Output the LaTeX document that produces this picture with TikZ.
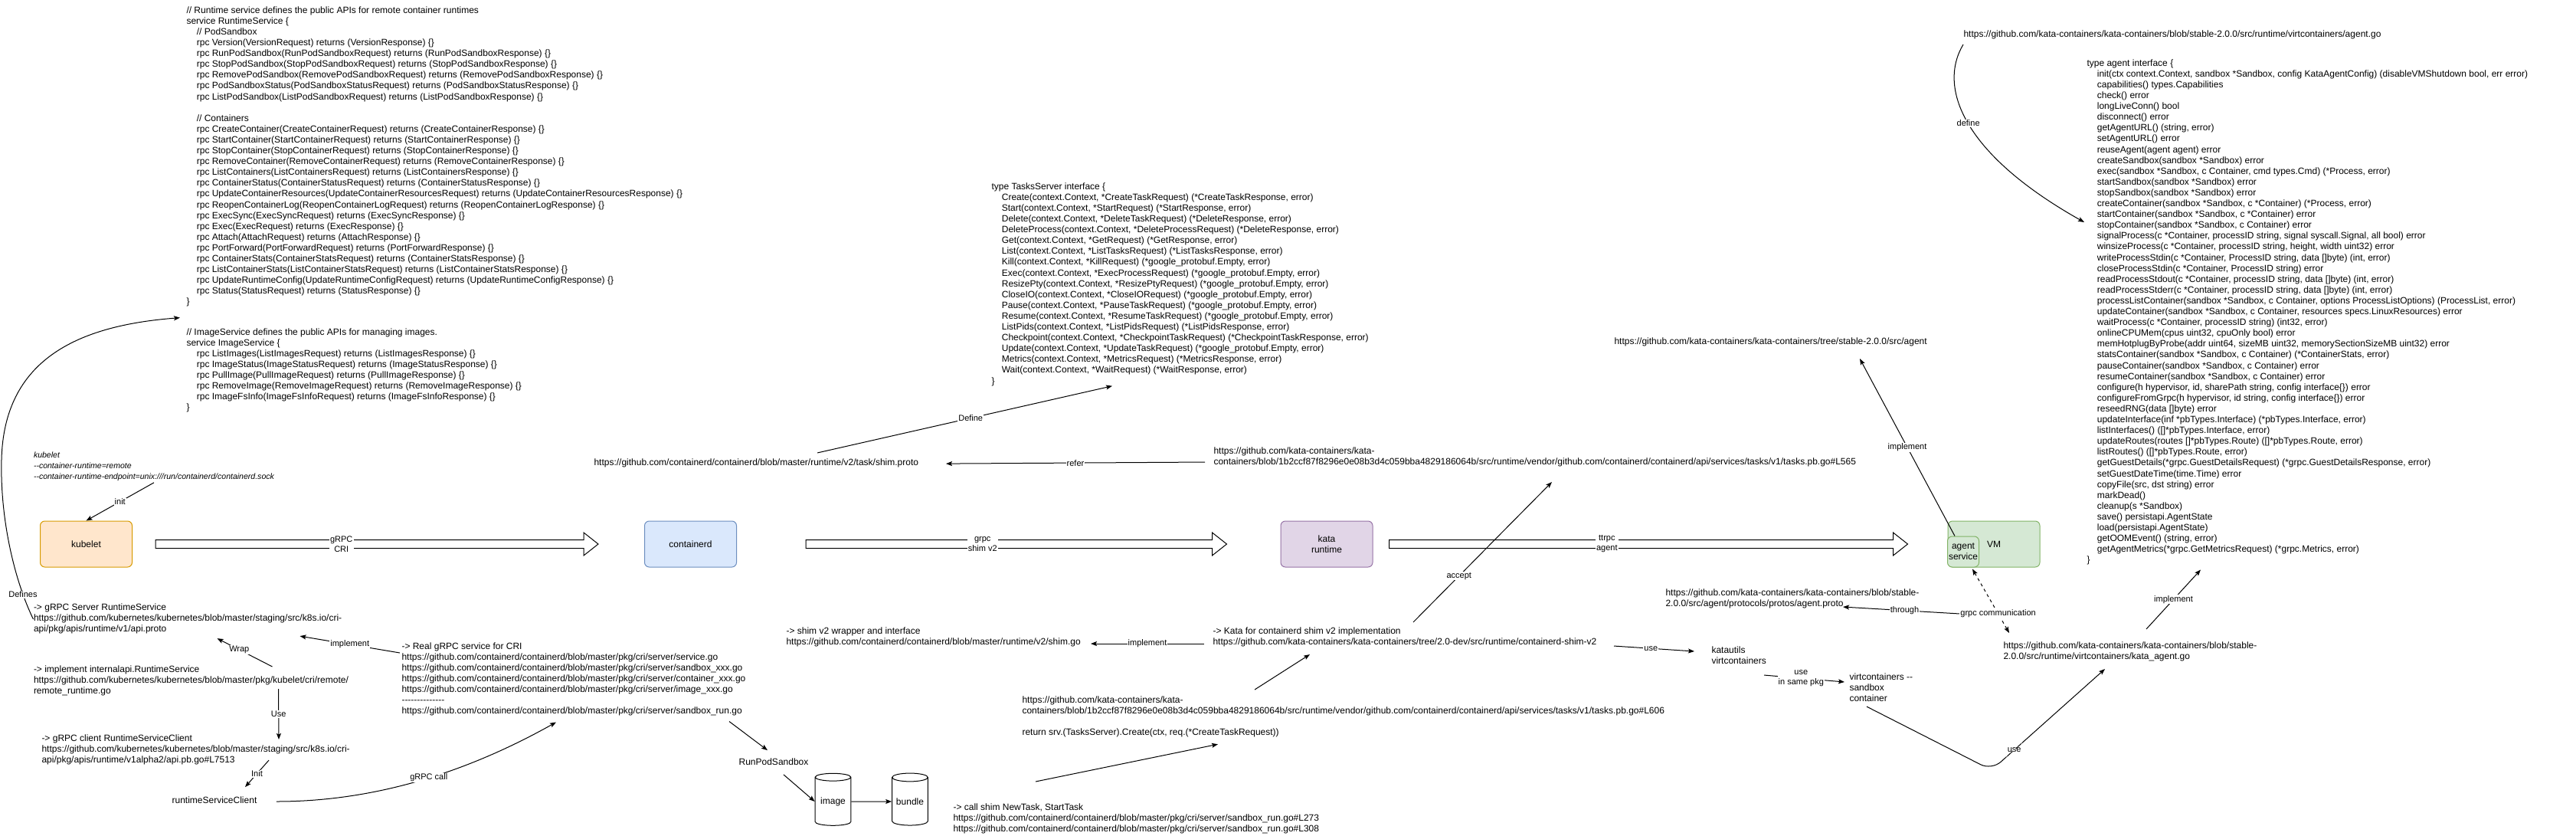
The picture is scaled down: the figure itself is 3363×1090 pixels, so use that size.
\documentclass[tikz,border=0pt]{standalone}
\usepackage{fontspec}
\setmainfont{Liberation Sans}[Ligatures=TeXOff]
\usepackage{tikz}
\usetikzlibrary{arrows.meta}
\usetikzlibrary{calc}
\usetikzlibrary{positioning}
\usetikzlibrary{shapes.geometric}

\definecolor{kubeletfill}{HTML}{FFE6CC}
\definecolor{kubeletline}{HTML}{D79B00}
\definecolor{ctrdfill}{HTML}{DAE8FC}
\definecolor{ctrdline}{HTML}{6C8EBF}
\definecolor{katafill}{HTML}{E1D5E7}
\definecolor{kataline}{HTML}{9673A6}
\definecolor{vmfill}{HTML}{D5E8D4}
\definecolor{vmline}{HTML}{82B366}

\newcommand{\ind}{\hspace*{10pt}}

\begin{document}
\begin{tikzpicture}[x=0.75pt, y=-0.75pt, line width=0.75pt,
    >={Stealth[length=6pt,width=4.5pt,inset=1.2pt]},
    txt/.style={inner sep=0pt, align=left, anchor=north west, execute at begin node=\strut,
      font=\fontsize{9}{10.575}\selectfont},
    plain/.style={inner sep=0pt, font=\fontsize{9}{10.575}\selectfont},
    lbl/.style={fill=white, inner sep=0.8pt, align=center, font=\fontsize{8.25}{9.75}\selectfont},
    comp/.style={draw, rounded corners=4.5pt, minimum width=90pt, minimum height=45pt,
      align=center, font=\fontsize{9}{10.575}\selectfont},
    link/.style={->},
    flex/.style={draw, fill=white},
    db/.style={cylinder, shape border rotate=90, draw, aspect=0.3, minimum width=35pt,
      minimum height=51pt, inner sep=0pt, font=\fontsize{9}{10.575}\selectfont}]

    % Canvas
    \fill[white] (0,0) rectangle (3363,1090);
    \useasboundingbox (0,0) rectangle (3363,1090);

    % CRI definitions
    \node[txt] (rtsvc) at (243,8) {// Runtime service defines the public APIs for remote container runtimes\\
      service RuntimeService \{\\
      \ind // PodSandbox\\
      \ind rpc Version(VersionRequest) returns (VersionResponse) \{\}\\
      \ind rpc RunPodSandbox(RunPodSandboxRequest) returns (RunPodSandboxResponse) \{\}\\
      \ind rpc StopPodSandbox(StopPodSandboxRequest) returns (StopPodSandboxResponse) \{\}\\
      \ind rpc RemovePodSandbox(RemovePodSandboxRequest) returns (RemovePodSandboxResponse) \{\}\\
      \ind rpc PodSandboxStatus(PodSandboxStatusRequest) returns (PodSandboxStatusResponse) \{\}\\
      \ind rpc ListPodSandbox(ListPodSandboxRequest) returns (ListPodSandboxResponse) \{\}\\
      \strut\\
      \ind // Containers\\
      \ind rpc CreateContainer(CreateContainerRequest) returns (CreateContainerResponse) \{\}\\
      \ind rpc StartContainer(StartContainerRequest) returns (StartContainerResponse) \{\}\\
      \ind rpc StopContainer(StopContainerRequest) returns (StopContainerResponse) \{\}\\
      \ind rpc RemoveContainer(RemoveContainerRequest) returns (RemoveContainerResponse) \{\}\\
      \ind rpc ListContainers(ListContainersRequest) returns (ListContainersResponse) \{\}\\
      \ind rpc ContainerStatus(ContainerStatusRequest) returns (ContainerStatusResponse) \{\}\\
      \ind rpc UpdateContainerResources(UpdateContainerResourcesRequest) returns (UpdateContainerResourcesResponse) \{\}\\
      \ind rpc ReopenContainerLog(ReopenContainerLogRequest) returns (ReopenContainerLogResponse) \{\}\\
      \ind rpc ExecSync(ExecSyncRequest) returns (ExecSyncResponse) \{\}\\
      \ind rpc Exec(ExecRequest) returns (ExecResponse) \{\}\\
      \ind rpc Attach(AttachRequest) returns (AttachResponse) \{\}\\
      \ind rpc PortForward(PortForwardRequest) returns (PortForwardResponse) \{\}\\
      \ind rpc ContainerStats(ContainerStatsRequest) returns (ContainerStatsResponse) \{\}\\
      \ind rpc ListContainerStats(ListContainerStatsRequest) returns (ListContainerStatsResponse) \{\}\\
      \ind rpc UpdateRuntimeConfig(UpdateRuntimeConfigRequest) returns (UpdateRuntimeConfigResponse) \{\}\\
      \ind rpc Status(StatusRequest) returns (StatusResponse) \{\}\\
      \}};
    \node[txt] (imgsvc) at (243,428) {// ImageService defines the public APIs for managing images.\\
      service ImageService \{\\
      \ind rpc ListImages(ListImagesRequest) returns (ListImagesResponse) \{\}\\
      \ind rpc ImageStatus(ImageStatusRequest) returns (ImageStatusResponse) \{\}\\
      \ind rpc PullImage(PullImageRequest) returns (PullImageResponse) \{\}\\
      \ind rpc RemoveImage(RemoveImageRequest) returns (RemoveImageResponse) \{\}\\
      \ind rpc ImageFsInfo(ImageFsInfoRequest) returns (ImageFsInfoResponse) \{\}\\
      \}};

    % Shim v2 task service
    \node[txt] (tasksrv) at (1294,238) {type TasksServer interface \{\\
      \ind Create(context.Context, *CreateTaskRequest) (*CreateTaskResponse, error)\\
      \ind Start(context.Context, *StartRequest) (*StartResponse, error)\\
      \ind Delete(context.Context, *DeleteTaskRequest) (*DeleteResponse, error)\\
      \ind DeleteProcess(context.Context, *DeleteProcessRequest) (*DeleteResponse, error)\\
      \ind Get(context.Context, *GetRequest) (*GetResponse, error)\\
      \ind List(context.Context, *ListTasksRequest) (*ListTasksResponse, error)\\
      \ind Kill(context.Context, *KillRequest) (*google\_protobuf.Empty, error)\\
      \ind Exec(context.Context, *ExecProcessRequest) (*google\_protobuf.Empty, error)\\
      \ind ResizePty(context.Context, *ResizePtyRequest) (*google\_protobuf.Empty, error)\\
      \ind CloseIO(context.Context, *CloseIORequest) (*google\_protobuf.Empty, error)\\
      \ind Pause(context.Context, *PauseTaskRequest) (*google\_protobuf.Empty, error)\\
      \ind Resume(context.Context, *ResumeTaskRequest) (*google\_protobuf.Empty, error)\\
      \ind ListPids(context.Context, *ListPidsRequest) (*ListPidsResponse, error)\\
      \ind Checkpoint(context.Context, *CheckpointTaskRequest) (*CheckpointTaskResponse, error)\\
      \ind Update(context.Context, *UpdateTaskRequest) (*google\_protobuf.Empty, error)\\
      \ind Metrics(context.Context, *MetricsRequest) (*MetricsResponse, error)\\
      \ind Wait(context.Context, *WaitRequest) (*WaitResponse, error)\\
      \}};
    \node[txt] (shimproto) at (775,597) {https://github.com/containerd/containerd/blob/master/runtime/v2/task/shim.proto};
    \node[txt] (katavendor) at (1584,583) {https://github.com/kata-containers/kata-\\
      containers/blob/1b2ccf87f8296e0e08b3d4c059bba4829186064b/src/runtime/vendor/github.com/containerd/containerd/api/services/tasks/v1/tasks.pb.go\#L565};

    % Agent interface
    \node[txt] (agentgo) at (2563,38) {https://github.com/kata-containers/kata-containers/blob/stable-2.0.0/src/runtime/virtcontainers/agent.go};
    \node[txt] (agentif) at (2724,77) {type agent interface \{\\
      \ind init(ctx context.Context, sandbox *Sandbox, config KataAgentConfig) (disableVMShutdown bool, err error)\\
      \ind capabilities() types.Capabilities\\
      \ind check() error\\
      \ind longLiveConn() bool\\
      \ind disconnect() error\\
      \ind getAgentURL() (string, error)\\
      \ind setAgentURL() error\\
      \ind reuseAgent(agent agent) error\\
      \ind createSandbox(sandbox *Sandbox) error\\
      \ind exec(sandbox *Sandbox, c Container, cmd types.Cmd) (*Process, error)\\
      \ind startSandbox(sandbox *Sandbox) error\\
      \ind stopSandbox(sandbox *Sandbox) error\\
      \ind createContainer(sandbox *Sandbox, c *Container) (*Process, error)\\
      \ind startContainer(sandbox *Sandbox, c *Container) error\\
      \ind stopContainer(sandbox *Sandbox, c Container) error\\
      \ind signalProcess(c *Container, processID string, signal syscall.Signal, all bool) error\\
      \ind winsizeProcess(c *Container, processID string, height, width uint32) error\\
      \ind writeProcessStdin(c *Container, ProcessID string, data []byte) (int, error)\\
      \ind closeProcessStdin(c *Container, ProcessID string) error\\
      \ind readProcessStdout(c *Container, processID string, data []byte) (int, error)\\
      \ind readProcessStderr(c *Container, processID string, data []byte) (int, error)\\
      \ind processListContainer(sandbox *Sandbox, c Container, options ProcessListOptions) (ProcessList, error)\\
      \ind updateContainer(sandbox *Sandbox, c Container, resources specs.LinuxResources) error\\
      \ind waitProcess(c *Container, processID string) (int32, error)\\
      \ind onlineCPUMem(cpus uint32, cpuOnly bool) error\\
      \ind memHotplugByProbe(addr uint64, sizeMB uint32, memorySectionSizeMB uint32) error\\
      \ind statsContainer(sandbox *Sandbox, c Container) (*ContainerStats, error)\\
      \ind pauseContainer(sandbox *Sandbox, c Container) error\\
      \ind resumeContainer(sandbox *Sandbox, c Container) error\\
      \ind configure(h hypervisor, id, sharePath string, config interface\{\}) error\\
      \ind configureFromGrpc(h hypervisor, id string, config interface\{\}) error\\
      \ind reseedRNG(data []byte) error\\
      \ind updateInterface(inf *pbTypes.Interface) (*pbTypes.Interface, error)\\
      \ind listInterfaces() ([]*pbTypes.Interface, error)\\
      \ind updateRoutes(routes []*pbTypes.Route) ([]*pbTypes.Route, error)\\
      \ind listRoutes() ([]*pbTypes.Route, error)\\
      \ind getGuestDetails(*grpc.GuestDetailsRequest) (*grpc.GuestDetailsResponse, error)\\
      \ind setGuestDateTime(time.Time) error\\
      \ind copyFile(src, dst string) error\\
      \ind markDead()\\
      \ind cleanup(s *Sandbox)\\
      \ind save() persistapi.AgentState\\
      \ind load(persistapi.AgentState)\\
      \ind getOOMEvent() (string, error)\\
      \ind getAgentMetrics(*grpc.GetMetricsRequest) (*grpc.Metrics, error)\\
      \}};
    \node[txt] (agentsrc) at (2107,439) {https://github.com/kata-containers/kata-containers/tree/stable-2.0.0/src/agent};

    % Components
    \node[txt, font=\fontsize{7.9}{10.5}\selectfont\itshape] (kubeletnote) at (43.5,589) {kubelet\\
      --container-runtime=remote\\
      --container-runtime-endpoint=unix:///run/containerd/containerd.sock};
    \node[comp, fill=kubeletfill, draw=kubeletline] (kubelet) at (112.5,710) {kubelet};
    \node[comp, fill=ctrdfill, draw=ctrdline] (containerd) at (901.5,710) {containerd};
    \node[comp, fill=katafill, draw=kataline] (kata) at (1732,710) {kata\\runtime};
    \node[comp, fill=vmfill, draw=vmline] (vm) at (2603,710) {VM};
    \node[comp, fill=vmfill, draw=vmline, minimum width=30.75pt, minimum height=30pt, inner sep=0pt]
      (agentsvc) at (2563,720) {agent\\service};

    % Flex arrows
    \draw[flex] ($(kubelet.east)+(30,-5.5)$) -- ($(containerd.west)+(-79,-5.5)$) -- ($(containerd.west)+(-79,-15)$)
      -- ($(containerd.west)+(-60,0)$) -- ($(containerd.west)+(-79,15)$) -- ($(containerd.west)+(-79,5.5)$)
      -- ($(kubelet.east)+(30,5.5)$) -- cycle;
    \path ($(kubelet.east)+(30,0)$) -- ($(containerd.west)+(-60,0)$) node[lbl, pos=0.42] (cri) {gRPC\\CRI};
    \draw[flex] ($(containerd.east)+(90,-5.5)$) -- ($(kata.west)+(-89,-5.5)$) -- ($(kata.west)+(-89,-15)$)
      -- ($(kata.west)+(-70,0)$) -- ($(kata.west)+(-89,15)$) -- ($(kata.west)+(-89,5.5)$)
      -- ($(containerd.east)+(90,5.5)$) -- cycle;
    \path ($(containerd.east)+(90,0)$) -- ($(kata.west)+(-70,0)$) node[lbl, pos=0.42] (shimv2) {grpc\\shim v2};
    \draw[flex] ($(kata.east)+(21,-5.5)$) -- ($(vm.west)+(-71,-5.5)$) -- ($(vm.west)+(-71,-15)$)
      -- ($(vm.west)+(-52,0)$) -- ($(vm.west)+(-71,15)$) -- ($(vm.west)+(-71,5.5)$)
      -- ($(kata.east)+(21,5.5)$) -- cycle;
    \path ($(kata.east)+(21,0)$) -- ($(vm.west)+(-52,0)$) node[lbl, pos=0.42] (ttrpc) {ttrpc\\agent};

    % kubelet side
    \node[txt] (gsrv) at (43.5,787) {-> gRPC Server RuntimeService\\
      https://github.com/kubernetes/kubernetes/blob/master/staging/src/k8s.io/cri-\\
      api/pkg/apis/runtime/v1/api.proto};
    \node[txt] (remrt) at (43.5,868) {-> implement internalapi.RuntimeService\\
      https://github.com/kubernetes/kubernetes/blob/master/pkg/kubelet/cri/remote/\\
      remote\_runtime.go};
    \node[txt] (gcli) at (54,958) {-> gRPC client RuntimeServiceClient\\
      https://github.com/kubernetes/kubernetes/blob/master/staging/src/k8s.io/cri-\\
      api/pkg/apis/runtime/v1alpha2/api.pb.go\#L7513};
    \node[plain] (rtclient) at (280,1044) {runtimeServiceClient};
    \node[txt] (realsrv) at (524,838) {-> Real gRPC service for CRI\\
      https://github.com/containerd/containerd/blob/master/pkg/cri/server/service.go\\
      https://github.com/containerd/containerd/blob/master/pkg/cri/server/sandbox\_xxx.go\\
      https://github.com/containerd/containerd/blob/master/pkg/cri/server/container\_xxx.go\\
      https://github.com/containerd/containerd/blob/master/pkg/cri/server/image\_xxx.go\\
      --------------\\
      https://github.com/containerd/containerd/blob/master/pkg/cri/server/sandbox\_run.go};
    \node[plain] (runpod) at (1010,994) {RunPodSandbox};
    \node[db] (image) at (1087.5,1046) {image};
    \node[db] (bundle) at (1188,1046) {bundle};
    \node[txt] (callshim) at (1244,1048) {-> call shim NewTask, StartTask\\
      https://github.com/containerd/containerd/blob/master/pkg/cri/server/sandbox\_run.go\#L273\\
      https://github.com/containerd/containerd/blob/master/pkg/cri/server/sandbox\_run.go\#L308};

    % shim side
    \node[txt] (kataret) at (1334,908) {https://github.com/kata-containers/kata-\\
      containers/blob/1b2ccf87f8296e0e08b3d4c059bba4829186064b/src/runtime/vendor/github.com/containerd/containerd/api/services/tasks/v1/tasks.pb.go\#L606\\
      \strut\\
      return srv.(TasksServer).Create(ctx, req.(*CreateTaskRequest))};
    \node[txt] (shimgo) at (1026,818) {-> shim v2 wrapper and interface\\
      https://github.com/containerd/containerd/blob/master/runtime/v2/shim.go};
    \node[txt] (katashim) at (1583,818) {-> Kata for containerd shim v2 implementation\\
      https://github.com/kata-containers/kata-containers/tree/2.0-dev/src/runtime/containerd-shim-v2};
    \node[txt] (katautils) at (2234,843) {katautils\\virtcontainers};
    \node[txt] (vcsandbox) at (2414,878) {virtcontainers --\\sandbox\\container};
    \node[txt] (agentproto) at (2174,768) {https://github.com/kata-containers/kata-containers/blob/stable-\\
      2.0.0/src/agent/protocols/protos/agent.proto};
    \node[txt] (katagent) at (2615,837) {https://github.com/kata-containers/kata-containers/blob/stable-\\
      2.0.0/src/runtime/virtcontainers/kata\_agent.go};

    % Links, kubelet side
    \draw[link] (gsrv.west) .. controls (20,760) and (0,680) .. (2,600) node[lbl, pos=0.2] {Defines}
      .. controls (5,470) and (100,425) .. ($(rtsvc.south west)+(-8,12)$);
    \draw[link] (kubeletnote.south) -- (kubelet.north) node[lbl, midway] {init};
    \draw[link] ($(remrt.north west)+(312,2)$) -- ($(gsrv.south west)+(240,4)$) node[lbl, pos=0.6] {Wrap};
    \draw[link] ($(realsrv.north west)+(-2,14)$) -- ($(gsrv.south west)+(348,1)$) node[lbl, midway] {implement};
    \draw[link] ($(remrt.south west)+(320,-11)$) -- ($(gcli.north west)+(310,7)$) node[lbl, midway] {Use};
    \draw[link] ($(gcli.south west)+(297,-8)$) -- ($(rtclient.north)+(40,-12)$) node[lbl, midway] {Init};
    \draw[link] ($(rtclient.east)+(25,2)$) .. controls +(120,0) and +(-125,70) .. ($(realsrv.south west)+(202,6)$)
      node[lbl, pos=0.55] {gRPC call};
    \draw[link] ($(realsrv.south west)+(428,5)$) -- ($(runpod.north)+(-8,-10)$);
    \draw[link] ($(runpod.south)+(13,12)$) -- (image.west);
    \draw[link] (image.east) -- (bundle.west);
    \draw[link] ($(callshim.north west)+(108,-28)$) -- ($(kataret.south west)+(256,7)$);

    % Links, shim side
    \draw[link] ($(kataret.north west)+(304,-8)$) -- ($(katashim.south west)+(127,8)$);
    \draw[link] ($(katashim.south west)+(-11,-6)$) -- ($(shimgo.south west)+(398,-6)$) node[lbl, midway] {implement};
    \draw[link] ($(katashim.north west)+(262,-6)$) -- ($(katavendor.south west)+(442,18)$) node[lbl, pos=0.33] {accept};
    \draw[link] ($(katavendor.south west)+(-11,-8)$) -- ($(shimproto.south west)+(460,-7)$) node[lbl, midway] {refer};
    \draw[link] ($(shimproto.north west)+(292,-6)$) -- ($(tasksrv.south west)+(158,-2)$) node[lbl, pos=0.52] {Define};

    % Links, agent side
    \draw[link] ($(agentsvc.north)+(-11,0)$) -- ($(agentsrc.south west)+(321,14)$) node[lbl, midway] {implement};
    \draw[link, <->, dashed] ($(agentsvc.south)+(12,2)$) -- ($(katagent.north west)+(8,-11)$)
      node[lbl, pos=0.7] (gcomm) {grpc communication};
    \draw[link] (gcomm.west) -- ($(agentproto.south west)+(232,-4)$) node[lbl, pos=0.47] {through};
    \draw[link] ($(katagent.north west)+(187,-16)$) -- ($(agentif.south west)+(149,4)$) node[lbl, midway] {implement};
    \draw[link] ($(katashim.south west)+(524,-3)$) -- ($(katautils.north west)+(-22,7)$) node[lbl, pos=0.46] {use};
    \draw[link] ($(katautils.south west)+(69,10)$) -- ($(vcsandbox.north west)+(-6,12)$) node[lbl, pos=0.46] {use\\in same pkg};
    \draw[link, rounded corners=12pt] ($(vcsandbox.south west)+(23,2)$) -- ($(katagent.south west)+(-15,140)$)
      -- ($(katagent.south west)+(133,8)$) node[lbl, pos=0.2] {use};
    \draw[link] ($(agentgo.south west)+(0,5)$) .. controls +(-33,55) and +(-160,-90) .. ($(agentif.north west)+(-3,213)$)
      node[lbl, pos=0.5] {define};
\end{tikzpicture}
\end{document}
